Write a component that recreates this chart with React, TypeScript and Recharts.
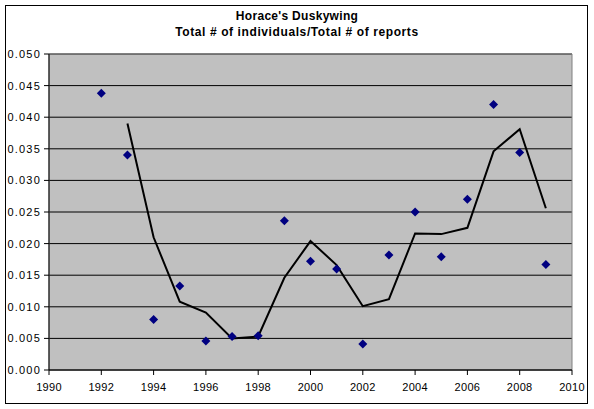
import {
  CartesianGrid,
  ComposedChart,
  Line,
  ReferenceArea,
  Scatter,
  XAxis,
  YAxis,
} from "recharts";

const years = [1992, 1993, 1994, 1995, 1996, 1997, 1998, 1999, 2000, 2001, 2002, 2003, 2004, 2005, 2006, 2007, 2008, 2009];
const ratio = [0.0438, 0.034, 0.008, 0.0133, 0.0046, 0.0053, 0.0054, 0.0236, 0.0172, 0.016, 0.0041, 0.0182, 0.025, 0.0179, 0.027, 0.042, 0.0344, 0.0167];
// 2-period moving average trend line
const trend = [null, 0.039, 0.021, 0.0108, 0.0091, 0.005, 0.0053, 0.0146, 0.0204, 0.0166, 0.0101, 0.0112, 0.0216, 0.0215, 0.0225, 0.0346, 0.0381, 0.0256];
const xTicks = [1990, 1992, 1994, 1996, 1998, 2000, 2002, 2004, 2006, 2008, 2010];
const yTicks = [0, 0.005, 0.01, 0.015, 0.02, 0.025, 0.03, 0.035, 0.04, 0.045, 0.05];

const data = years.map((year, i) => ({ year, ratio: ratio[i], trend: trend[i] }));

const font = "'Liberation Sans', Arial, sans-serif";

function Diamond(props: any) {
  const { cx, cy } = props;
  if (cx == null || cy == null) return null;
  const r = 4.5;
  return (
    <path
      d={`M${cx},${cy - r} L${cx + r},${cy} L${cx},${cy + r} L${cx - r},${cy} Z`}
      fill="#000080"
    />
  );
}

export default function App() {
  return (
    <div style={{ position: "absolute", left: 0, top: 0, width: 594, height: 409, background: "#fff", fontFamily: font }}>
      <div
        style={{
          position: "absolute",
          left: 5,
          top: 5,
          width: 581,
          height: 397,
          border: "1px solid #000",
        }}
      />
      <div
        style={{
          position: "absolute",
          left: 0,
          top: 8,
          width: 594,
          textAlign: "center",
          fontSize: 12,
          lineHeight: "16px",
          fontWeight: "bold",
          color: "#000",
        }}
      >
        <div style={{ letterSpacing: 0.3 }}>Horace's Duskywing</div>
        <div style={{ letterSpacing: 0.6 }}>Total # of individuals/Total # of reports</div>
      </div>
      <div style={{ position: "absolute", left: 0, top: 0 }}>
        <ComposedChart
          width={594}
          height={409}
          data={data}
          margin={{ top: 54, right: 22, bottom: 9, left: 0 }}
        >
          <CartesianGrid fill="#C0C0C0" stroke="#000" vertical={false} strokeOpacity={1} />
          <ReferenceArea
            x1={1990}
            x2={2010}
            y1={0}
            y2={0.05}
            fill="none"
            stroke="#808080"
            strokeWidth={1}
            ifOverflow="visible"
          />
          <XAxis
            dataKey="year"
            type="number"
            domain={[1990, 2010]}
            ticks={xTicks}
            interval={0}
            height={30}
            tickSize={5}
            tickMargin={8}
            stroke="#000"
            tick={{ fontSize: 11, fill: "#000", fontFamily: font, letterSpacing: 0.3 }}
          />
          <YAxis
            type="number"
            domain={[0, 0.05]}
            ticks={yTicks}
            interval={0}
            width={49}
            tickSize={5}
            tickMargin={3}
            stroke="#000"
            tickFormatter={(v: number) => v.toFixed(3)}
            tick={{ fontSize: 11, fill: "#000", fontFamily: font, letterSpacing: 1.2 }}
          />
          <Line
            dataKey="trend"
            type="linear"
            stroke="#000"
            strokeWidth={2}
            dot={false}
            activeDot={false}
            isAnimationActive={false}
          />
          <Scatter dataKey="ratio" shape={<Diamond />} isAnimationActive={false} />
        </ComposedChart>
      </div>
    </div>
  );
}
